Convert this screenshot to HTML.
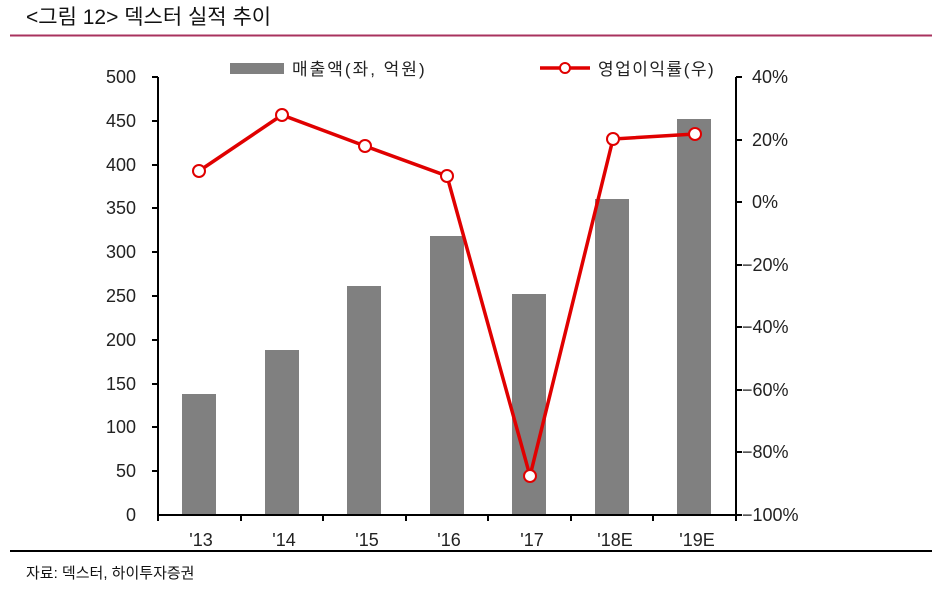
<!DOCTYPE html>
<html><head><meta charset="utf-8"><style>
body{margin:0;background:#fff;}
svg text{font-family:"Liberation Sans","Noto Sans CJK KR",sans-serif;}
</style></head><body>
<svg width="951" height="598" xmlns="http://www.w3.org/2000/svg">
<text x="26" y="24" font-size="21" fill="#111">&lt;그림 12&gt;  덱스터 실적 추이</text>
<line x1="10" y1="35.5" x2="932" y2="35.5" stroke="#a8325e" stroke-width="2"/>
<g fill="#808080">
<rect x="182" y="394" width="34" height="121"/>
<rect x="265" y="350" width="34" height="165"/>
<rect x="347" y="286" width="34" height="229"/>
<rect x="430" y="236" width="34" height="279"/>
<rect x="512" y="294" width="34" height="221"/>
<rect x="595" y="199" width="34" height="316"/>
<rect x="677" y="119" width="34" height="396"/>
</g>
<g stroke="#000" stroke-width="2">
<line x1="158" y1="77" x2="158" y2="516"/>
<line x1="736" y1="77" x2="736" y2="516"/>
<line x1="157" y1="515" x2="737" y2="515"/>
<line x1="152" y1="77" x2="158" y2="77"/><line x1="152" y1="121" x2="158" y2="121"/><line x1="152" y1="165" x2="158" y2="165"/><line x1="152" y1="208" x2="158" y2="208"/><line x1="152" y1="252" x2="158" y2="252"/><line x1="152" y1="296" x2="158" y2="296"/><line x1="152" y1="340" x2="158" y2="340"/><line x1="152" y1="384" x2="158" y2="384"/><line x1="152" y1="427" x2="158" y2="427"/><line x1="152" y1="471" x2="158" y2="471"/>
<line x1="736" y1="77" x2="742" y2="77"/><line x1="736" y1="140" x2="742" y2="140"/><line x1="736" y1="202" x2="742" y2="202"/><line x1="736" y1="265" x2="742" y2="265"/><line x1="736" y1="327" x2="742" y2="327"/><line x1="736" y1="390" x2="742" y2="390"/><line x1="736" y1="452" x2="742" y2="452"/><line x1="736" y1="515" x2="742" y2="515"/>
<line x1="158" y1="515" x2="158" y2="521"/><line x1="241" y1="515" x2="241" y2="521"/><line x1="323" y1="515" x2="323" y2="521"/><line x1="406" y1="515" x2="406" y2="521"/><line x1="488" y1="515" x2="488" y2="521"/><line x1="571" y1="515" x2="571" y2="521"/><line x1="653" y1="515" x2="653" y2="521"/><line x1="736" y1="515" x2="736" y2="521"/>
</g>
<g font-size="18" fill="#222" text-anchor="end">
<text x="136" y="83">500</text><text x="136" y="127">450</text><text x="136" y="171">400</text><text x="136" y="214">350</text><text x="136" y="258">300</text><text x="136" y="302">250</text><text x="136" y="346">200</text><text x="136" y="390">150</text><text x="136" y="433">100</text><text x="136" y="477">50</text><text x="136" y="521">0</text>
</g>
<g font-size="18" fill="#222">
<text x="752" y="83">40%</text><text x="752" y="146">20%</text><text x="752" y="208">0%</text><text x="742" y="271">−20%</text><text x="742" y="333">−40%</text><text x="742" y="396">−60%</text><text x="742" y="458">−80%</text><text x="742" y="521">−100%</text>
</g>
<g font-size="18" fill="#222" text-anchor="middle">
<text x="201" y="546">'13</text><text x="284" y="546">'14</text><text x="367" y="546">'15</text><text x="449" y="546">'16</text><text x="532" y="546">'17</text><text x="615" y="546">'18E</text><text x="697" y="546">'19E</text>
</g>
<polyline points="199,171 282,115 365,146 447,176 530,476 613,139 695,134" fill="none" stroke="#e00000" stroke-width="3.5"/>
<g fill="#fff" stroke="#e00000" stroke-width="2">
<circle cx="199" cy="171" r="6"/><circle cx="282" cy="115" r="6"/><circle cx="365" cy="146" r="6"/><circle cx="447" cy="176" r="6"/><circle cx="530" cy="476" r="6"/><circle cx="613" cy="139" r="6"/><circle cx="695" cy="134" r="6"/>
</g>
<rect x="230" y="63" width="54" height="11" fill="#808080"/>
<text x="292" y="75" font-size="17" fill="#222" letter-spacing="2">매출액(좌, 억원)</text>
<line x1="540" y1="68" x2="590" y2="68" stroke="#e00000" stroke-width="3.5"/>
<circle cx="565" cy="68" r="5" fill="#fff" stroke="#e00000" stroke-width="2"/>
<text x="598" y="75" font-size="17" fill="#222" letter-spacing="1.5">영업이익률(우)</text>
<line x1="10" y1="551" x2="932" y2="551" stroke="#000" stroke-width="2"/>
<text x="26" y="578" font-size="15" fill="#111">자료: 덱스터, 하이투자증권</text>
</svg>
</body></html>
